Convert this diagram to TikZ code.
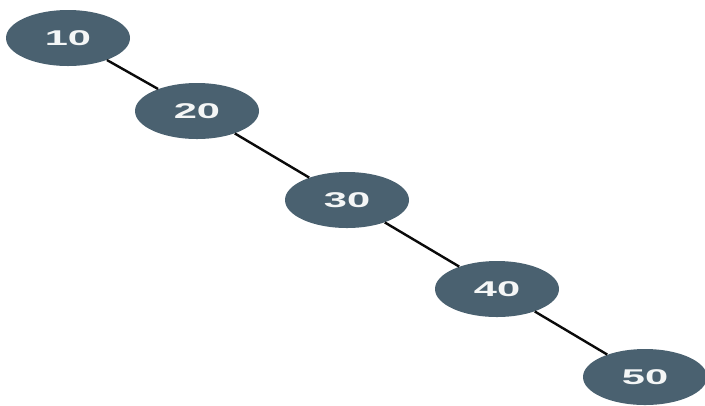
\documentclass[tikz,border=0pt]{standalone}
\usepackage{fontspec}
\setmainfont{Liberation Sans}
\newfontfamily\keyfont[FakeStretch=1.95]{Liberation Sans}
\usepackage{tikz}
\usetikzlibrary{shapes.geometric, positioning, calc}
\definecolor{TreeSlate}{RGB}{74, 97, 112}
\definecolor{TreeEdge}{RGB}{10, 10, 10}

\tikzset{
  keynode/.style={
    ellipse, fill=TreeSlate, draw=none,
    minimum width=93pt, minimum height=42pt, inner sep=0pt,
    font=\keyfont\fontsize{16}{18}\selectfont\bfseries, text=white!94!TreeSlate
  },
  treeedge/.style={draw=TreeEdge, line width=1.8pt}
}

\begin{document}
\begin{tikzpicture}
    \useasboundingbox (0,0) rectangle (528.75pt,-303.75pt);

    % keys of the right-leaning chain
    \node[keynode] (k10) at (51pt,-28.5pt) {10};
    \node[keynode] (k20) at (147.75pt,-83.25pt) {20};
    \node[keynode] (k30) at (260.25pt,-150pt) {30};
    \node[keynode] (k40) at (372.75pt,-216.75pt) {40};
    \node[keynode] (k50) at (483.75pt,-282.75pt) {50};

    % links
    \draw[treeedge] (k10) -- (k20);
    \draw[treeedge] (k20) -- (k30);
    \draw[treeedge] (k30) -- (k40);
    \draw[treeedge] (k40) -- (k50);
  \end{tikzpicture}
\end{document}
